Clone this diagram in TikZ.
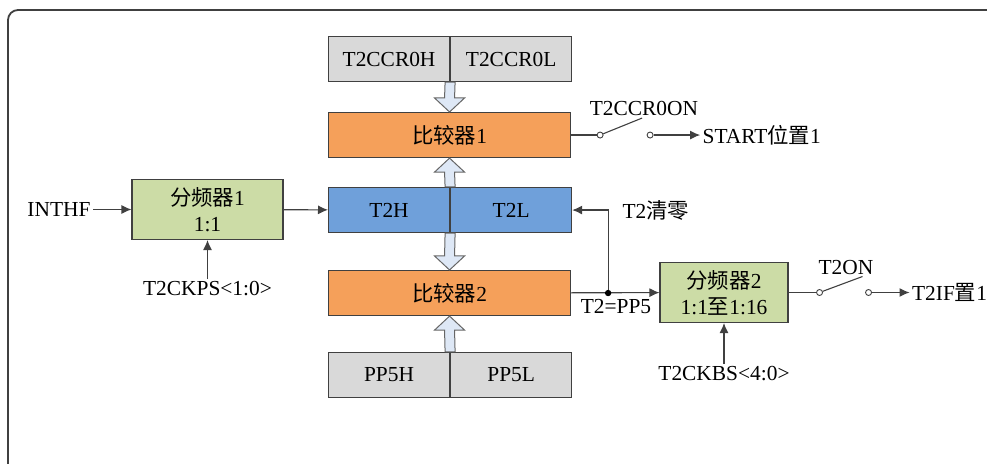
\documentclass[tikz,border=0pt]{standalone}
\usepackage{fontspec}
\setmainfont{Liberation Serif}
\newfontfamily\cjk{Noto Sans CJK SC}
\usetikzlibrary{arrows.meta,calc,positioning}
\definecolor{reggray}{RGB}{217,217,217}
\definecolor{cmporange}{RGB}{245,160,90}
\definecolor{cntblue}{RGB}{111,160,218}
\definecolor{divgreen}{RGB}{204,220,166}
\definecolor{busfill}{RGB}{222,232,246}
\definecolor{edgegray}{RGB}{64,64,64}
% hollow bus arrow: tail, tip, direction (1 down, -1 up)
\newcommand\busarrow[3]{%
  \filldraw[busfill,draw=edgegray!80,line width=0.5pt]
    ($(#1)+(-5,0)$) -- ($(#2)+(-5,{-14*#3})$) -- ($(#2)+(-15,{-14*#3})$) -- (#2)
    -- ($(#2)+(15,{-14*#3})$) -- ($(#2)+(5,{-14*#3})$) -- ($(#1)+(5,0)$) -- cycle;}
\begin{document}
\begin{tikzpicture}[x=0.5pt,y=-0.5pt,line width=0.55pt,
    every node/.style={font=\fontsize{10.7pt}{13pt}\selectfont},
    reg/.style={draw=edgegray,fill=reggray,minimum width=60.5pt,minimum height=22.5pt,inner sep=0pt},
    cmp/.style={draw=edgegray,fill=cmporange,minimum width=121pt,minimum height=22.5pt,inner sep=0pt},
    cnt/.style={reg,fill=cntblue},
    divbox/.style={draw=edgegray,fill=divgreen,minimum height=30pt,inner sep=0pt,align=center},
    lbl/.style={inner sep=1pt},
    pin/.style={circle,draw=edgegray,fill=white,inner sep=0pt,minimum size=3pt,line width=0.45pt},
    sig/.style={draw=edgegray,-{Latex[length=5pt,width=4.5pt]}}]
\useasboundingbox (0,0) rectangle (987,464);
% outer frame
\draw[edgegray,line width=0.9pt,rounded corners=5pt] (8,480) -- (8,10) -- (1000,10);

% register column
\node[reg,anchor=north west] (ccrh) at (328,36) {T2CCR0H};
\node[reg,right=0pt of ccrh] (ccrl) {T2CCR0L};
\node[cmp,anchor=north west] (cmpa) at (328,112) {{\cjk 比较器}1};
\node[cnt,anchor=north west] (tth) at (328,187) {T2H};
\node[cnt,right=0pt of tth] (ttl) {T2L};
\node[cmp,anchor=north west] (cmpb) at (328,270) {{\cjk 比较器}2};
\node[reg,anchor=north west] (pph) at (328,352) {PP5H};
\node[reg,right=0pt of pph] (ppl) {PP5L};

\busarrow{ccrh.south east}{cmpa.north}{1}
\busarrow{tth.north east}{cmpa.south}{-1}
\busarrow{tth.south east}{cmpb.north}{1}
\busarrow{pph.north east}{cmpb.south}{-1}

% prescaler 1
\node[divbox,minimum width=75.5pt] (diva) at (207.5,209.5) {{\cjk 分频器}1\\1:1};
\node[lbl,anchor=east] (inthf) at (93,209.5) {INTHF};
\node[lbl] (ckps) at (207.5,289) {T2CKPS<1:0>};
\draw[sig] (inthf) -- (diva);
\draw[sig] (diva) -- (tth);
\draw[sig] (ckps) -- (diva);

% compare 1 switch
\node[pin] (sa1) at ($(cmpa.east)+(29,0)$) {};
\node[pin] (sa2) at ($(sa1)+(50,0)$) {};
\coordinate (sa3) at ($(sa1)+(42,-17)$);
\node[lbl,anchor=west] (start) at ($(sa2)+(50,0)$) {START{\cjk 位置}1};
\node[lbl] (ccron) at (644,108) {T2CCR0ON};
\draw[edgegray] (cmpa) -- (sa1);
\draw[edgegray] (sa1) -- (sa3);
\draw[sig] (sa2) -- (start);

% compare 2 and prescaler 2
\node[divbox,minimum width=64pt] (divb) at (724,292.5) {{\cjk 分频器}2\\1:1{\cjk 至}1:16};
\coordinate (jn) at ($(cmpb.east)+(37,0)$);
\draw[sig] (cmpb) -- (divb);
\draw[sig] (jn) |- (ttl);
\fill[black] (jn) circle[radius=1.6pt];
\node[lbl,anchor=west] (clr) at (620,210) {T2{\cjk 清零}};
\node[lbl] (eqpp) at (616,307) {T2=PP5};
\node[lbl] (ckbs) at (724,374) {T2CKBS<4:0>};
\draw[sig] (ckbs) -- (divb);

% prescaler 2 switch
\node[pin] (sb1) at ($(divb.east)+(31,0)$) {};
\node[pin] (sb2) at ($(sb1)+(49,0)$) {};
\coordinate (sb3) at ($(sb1)+(43,-16)$);
\node[lbl,anchor=west] (ifset) at ($(sb2)+(41,0)$) {T2IF{\cjk 置}1};
\node[lbl] (t2on) at (846,268) {T2ON};
\draw[edgegray] (divb) -- (sb1);
\draw[edgegray] (sb1) -- (sb3);
\draw[sig] (sb2) -- (ifset);
\end{tikzpicture}
\end{document}
